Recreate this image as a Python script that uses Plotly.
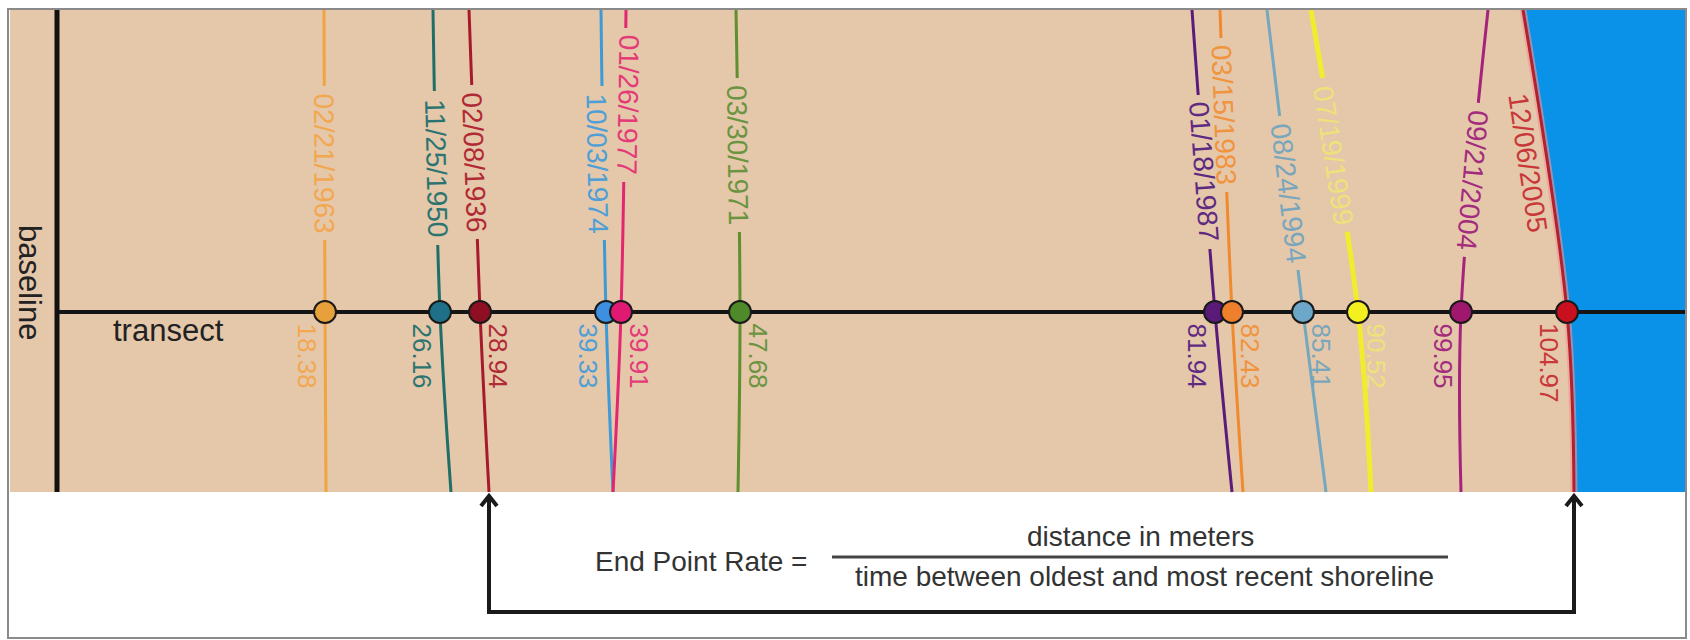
import math
import numpy as np
import plotly.graph_objects as go

# ---------------- data ----------------
dates = ["02/21/1963", "11/25/1950", "02/08/1936", "10/03/1974", "01/26/1977",
         "03/30/1971", "01/18/1987", "03/15/1983", "08/24/1994", "07/19/1999",
         "09/21/2004", "12/06/2005"]
distances = [18.38, 26.16, 28.94, 39.33, 39.91, 47.68, 81.94, 82.43, 85.41,
             90.52, 99.95, 104.97]
# position of each shoreline (drawing units) at the top edge, at the transect and at the bottom edge
shore_top = [324, 433, 469, 601, 626, 736, 1192, 1220, 1267, 1311, 1488, 1523]
shore_cross = [325, 440, 480, 606, 621, 740, 1215, 1232, 1303, 1358, 1461, 1567]
shore_bottom = [326, 451, 489, 613, 613, 738, 1232, 1243, 1326, 1371, 1461, 1574]

# ---------------- styling ----------------
line_colors = ["#F0A43C", "#1F6F68", "#A51B2B", "#3D9AD6", "#E2266F", "#5F8F2F",
               "#5A1C7A", "#F08A2E", "#74A8BE", "#F2EC2E", "#A4237C", "#B3202E"]
text_colors = ["#F2A850", "#2B7470", "#B02A35", "#4D9FD6", "#E33A78", "#6A9440",
               "#5E2A82", "#F0943E", "#78A6BC", "#EEE27A", "#A32C7E", "#C8383A"]
dot_colors = ["#E8A03A", "#1E7088", "#8E0F22", "#3D8FE0", "#E01A72", "#4F8A2A",
              "#5A1A78", "#EE7F2C", "#6CA6C8", "#F4F020", "#A0186E", "#C8101E"]
date_label_y = [163, 168, 162, 163, 105, 155, 172, 115, 193, 155, 180, 163]
date_label_dx = [0, 0, 0, -6, 4, 0, 0, 0, 0, 0, 0, -17]
value_side = [-1, -1, 1, -1, 1, 1, -1, 1, 1, 1, -1, -1]

W, H = 1690, 640
Y_TOP, Y_TR, Y_BOT = 10, 312, 492
X_LEFT, X_RIGHT = 10, 1685
BASE_X = 57
TAN = "#E5C7AA"
BLUE = "#0A91E8"
FONT = "Liberation Sans, Arial, sans-serif"
LABEL_HALF = 77

ys = [Y_TOP, Y_TR, Y_BOT]
fig = go.Figure()

# water (right of the most recent shoreline)
last = len(dates) - 1
fig.add_trace(go.Scatter(x=[shore_top[last], shore_cross[last], shore_bottom[last]], y=ys,
                         mode="lines", line=dict(shape="spline", width=0, color=BLUE),
                         hoverinfo="skip", showlegend=False))
fig.add_trace(go.Scatter(x=[X_RIGHT] * 3, y=ys, mode="lines", fill="tonextx",
                         fillcolor=BLUE, line=dict(width=0, color=BLUE),
                         hoverinfo="skip", showlegend=False))

# shorelines
for i in range(len(dates)):
    xs = [shore_top[i], shore_cross[i], shore_bottom[i]]
    if i == last:
        fig.add_trace(go.Scatter(x=xs, y=ys, mode="lines",
                                 line=dict(shape="spline", width=7, color="rgba(240,150,150,0.6)"),
                                 hoverinfo="skip", showlegend=False))
    fig.add_trace(go.Scatter(x=xs, y=ys, mode="lines",
                             line=dict(shape="spline", width=5 if i == 9 else 3, color=line_colors[i]),
                             hoverinfo="skip", showlegend=False))

# transect
fig.add_trace(go.Scatter(x=[BASE_X, X_RIGHT], y=[Y_TR, Y_TR], mode="lines",
                         line=dict(width=4, color="#151515"), hoverinfo="skip", showlegend=False))

# crossing points
fig.add_trace(go.Scatter(x=shore_cross, y=[Y_TR] * len(dates), mode="markers",
                         marker=dict(size=22, color=dot_colors, line=dict(width=2, color="#1a1a1a")),
                         hoverinfo="skip", showlegend=False))

annotations = []
shapes = []
for i, d in enumerate(dates):
    line_x = [shore_top[i], shore_cross[i], shore_bottom[i]]
    yl = date_label_y[i]
    xl = float(np.interp(yl, ys, line_x)) + date_label_dx[i]
    ang = math.degrees(math.atan2(Y_TR - Y_TOP, shore_cross[i] - shore_top[i]))
    if i != last:
        # gap in the shoreline where its date is written
        y0, y1 = yl - LABEL_HALF, yl + LABEL_HALF
        shapes.append(dict(type="line", x0=float(np.interp(y0, ys, line_x)), y0=y0,
                           x1=float(np.interp(y1, ys, line_x)), y1=y1,
                           line=dict(color=TAN, width=11 if i == 9 else 9), layer="above"))
    annotations.append(dict(x=xl, y=yl, text=d, showarrow=False, textangle=ang,
                            font=dict(family=FONT, size=28, color=text_colors[i])))
    annotations.append(dict(x=shore_cross[i] + value_side[i] * 18, y=Y_TR + 9,
                            yanchor="top", text=f"{distances[i]:.2f}", showarrow=False,
                            textangle=90,
                            font=dict(family=FONT, size=26, color=text_colors[i])))

annotations.append(dict(x=30, y=282, text="baseline", showarrow=False, textangle=90,
                        font=dict(family=FONT, size=31, color="#222222")))
annotations.append(dict(x=168, y=330, text="transect", showarrow=False,
                        font=dict(family=FONT, size=31, color="#222222")))

# formula
annotations.append(dict(x=701, y=561, text="End Point Rate =", showarrow=False,
                        font=dict(family=FONT, size=28, color="#333333")))
annotations.append(dict(x=1140, y=536, text="distance in meters", showarrow=False,
                        font=dict(family=FONT, size=28, color="#333333")))
annotations.append(dict(x=1144, y=576, text="time between oldest and most recent shoreline",
                        showarrow=False, font=dict(family=FONT, size=28, color="#333333")))

# bracket from oldest to most recent shoreline
years = [int(d[-4:]) for d in dates]
i_old, i_new = int(np.argmin(years)), int(np.argmax(years))
xa, xb = shore_bottom[i_old], shore_bottom[i_new]
yb = 612
shapes += [
    dict(type="rect", x0=X_LEFT, x1=X_RIGHT, y0=Y_TOP, y1=Y_BOT, fillcolor=TAN,
         line=dict(width=0), layer="below"),
    dict(type="rect", x0=8, x1=1686, y0=9, y1=638, line=dict(color="#8a8a8a", width=2),
         fillcolor="rgba(0,0,0,0)", layer="above"),
    dict(type="line", x0=BASE_X, x1=BASE_X, y0=Y_TOP, y1=Y_BOT,
         line=dict(color="#111111", width=5), layer="above"),
    dict(type="path", path=f"M {xa},{Y_BOT + 4} L {xa},{yb} L {xb},{yb} L {xb},{Y_BOT + 4}",
         line=dict(color="#1a1a1a", width=4)),
    dict(type="path", path=f"M {xa - 8},{Y_BOT + 14} L {xa},{Y_BOT + 4} L {xa + 8},{Y_BOT + 14}",
         line=dict(color="#1a1a1a", width=4)),
    dict(type="path", path=f"M {xb - 8},{Y_BOT + 14} L {xb},{Y_BOT + 4} L {xb + 8},{Y_BOT + 14}",
         line=dict(color="#1a1a1a", width=4)),
    dict(type="line", x0=832, x1=1448, y0=557, y1=557, line=dict(color="#444444", width=3)),
]

fig.update_layout(
    width=W, height=H, margin=dict(l=0, r=0, t=0, b=0),
    paper_bgcolor="white", plot_bgcolor="white",
    xaxis=dict(range=[0, W], visible=False, fixedrange=True),
    yaxis=dict(range=[H, 0], visible=False, fixedrange=True),
    annotations=annotations, shapes=shapes, showlegend=False,
)

fig.write_html("out.html", config={"displayModeBar": False},
               post_script="document.body.style.margin='0';document.body.style.overflow='hidden';")
